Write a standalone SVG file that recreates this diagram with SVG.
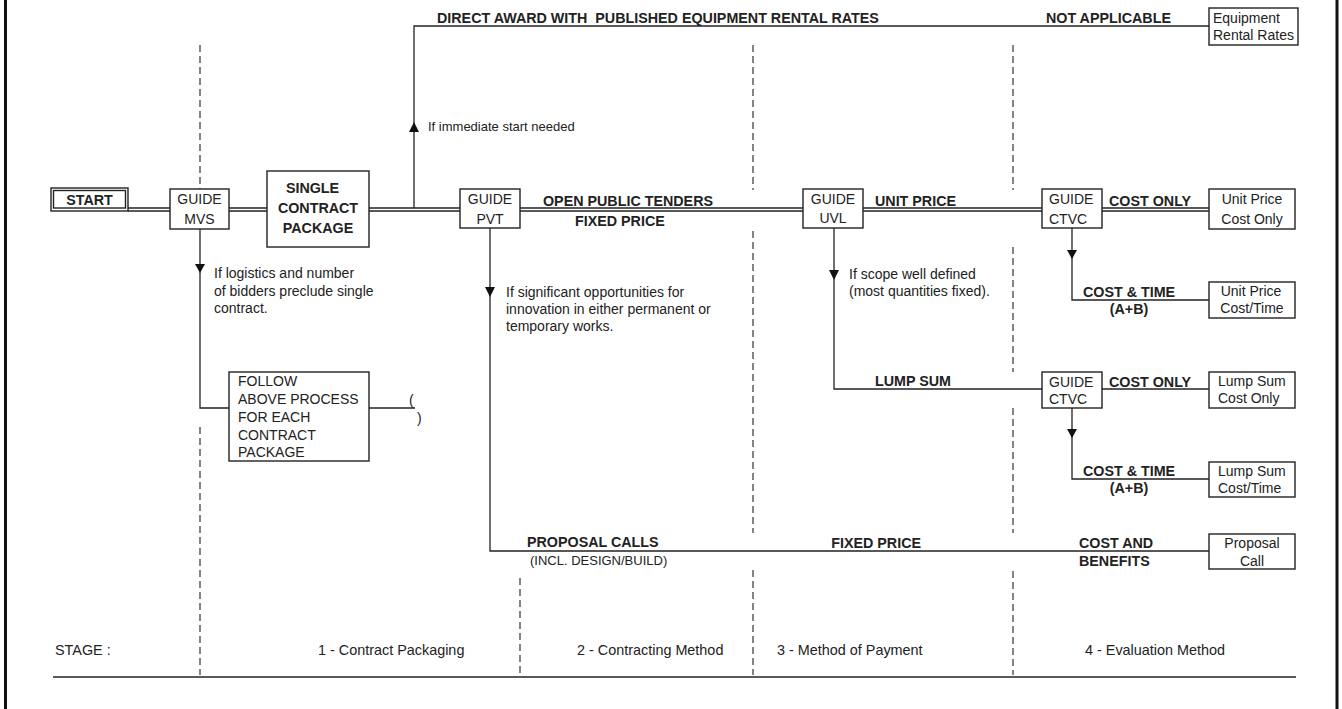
<svg xmlns="http://www.w3.org/2000/svg" width="1342" height="709" viewBox="0 0 1342 709">
<style>
text { font-family: "Liberation Sans", Arial, sans-serif; font-size: 14px; fill: #222; }
.b { font-weight: bold; font-size: 14.3px; }
.c { text-anchor: middle; }
.e { text-anchor: end; }
.sm { font-size: 13px; }
.st { font-size: 14.4px; }
.box { fill: #fff; stroke: #222; stroke-width: 1.4; }
.ln { fill: none; stroke: #222; stroke-width: 1.3; }
.dash { fill: none; stroke: #333; stroke-width: 1.2; stroke-dasharray: 7 4; }
.arr { fill: #111; stroke: none; }
.frame { stroke: #111; stroke-width: 3; }
</style>
<rect x="0" y="0" width="1342" height="709" fill="#fff"/>
<g id="frame">
<line class="frame" x1="5.5" y1="0" x2="5.5" y2="709"/>
<line class="frame" x1="1337" y1="0" x2="1337" y2="709"/>
</g>
<g id="stage-dividers">
<path class="dash" d="M200 45 V189 M200 427 V675"/>
<path class="dash" d="M520 578 V675"/>
<path class="dash" d="M753 45 V190 M753 231 V533 M753 570 V675"/>
<path class="dash" d="M1013 45 V190 M1013 247 V372 M1013 408 V533 M1013 571 V675"/>
<line class="ln" x1="53" y1="677" x2="1296" y2="677"/>
</g>
<g id="connectors">
<path class="ln" d="M128 208 H170 M128 211 H170 M229 208 H267 M229 211 H267 M369 208 H460 M369 211 H460 M520 208 H803 M520 211 H803 M863 208 H1042 M863 211 H1042 M1102 208 H1209 M1102 211 H1209"/>
<path class="ln" d="M414 208 V26 H1209"/>
<path class="ln" d="M200 229 V408 H229"/>
<path class="ln" d="M369 408 H415"/>
<path class="ln" d="M490 228 V551 H1209"/>
<path class="ln" d="M834 228 V389 H1042"/>
<path class="ln" d="M1072 228 V300 H1209"/>
<path class="ln" d="M1102 389 H1209"/>
<path class="ln" d="M1072 408 V479 H1209"/>
<polygon class="arr" points="414,122 409,132 419,132"/>
<polygon class="arr" points="195,264 205,264 200,273"/>
<polygon class="arr" points="485,287 495,287 490,297"/>
<polygon class="arr" points="829,270 839,270 834,280"/>
<polygon class="arr" points="1067,250 1077,250 1072,259"/>
<polygon class="arr" points="1067,429 1077,429 1072,438"/>
<text class="b" x="437" y="23" xml:space="preserve">DIRECT AWARD WITH  PUBLISHED EQUIPMENT RENTAL RATES</text>
<text class="b" x="1046" y="23">NOT APPLICABLE</text>
<text class="sm" x="428" y="131">If immediate start needed</text>
<text x="214" y="278">If logistics and number</text>
<text x="214" y="296">of bidders preclude single</text>
<text x="214" y="313">contract.</text>
<text x="409" y="405">(</text>
<text x="417" y="423">)</text>
<text class="b" x="543" y="205.5">OPEN PUBLIC TENDERS</text>
<text class="b" x="575" y="225.5">FIXED PRICE</text>
<text x="506" y="297">If significant opportunities for</text>
<text x="506" y="314">innovation in either permanent or</text>
<text x="506" y="331">temporary works.</text>
<text class="b" x="875" y="205.5">UNIT PRICE</text>
<text x="849" y="279">If scope well defined</text>
<text x="849" y="296">(most quantities fixed).</text>
<text class="b" x="875" y="386">LUMP SUM</text>
<text class="b" x="1109" y="205.5">COST ONLY</text>
<text class="b" x="1083" y="297">COST &amp; TIME</text>
<text class="b c" x="1129" y="314">(A+B)</text>
<text class="b" x="1109" y="387">COST ONLY</text>
<text class="b" x="1083" y="476">COST &amp; TIME</text>
<text class="b c" x="1129" y="493">(A+B)</text>
<text class="b" x="527" y="547">PROPOSAL CALLS</text>
<text class="sm" x="530" y="565">(INCL. DESIGN/BUILD)</text>
<text class="b e" x="921" y="548">FIXED PRICE</text>
<text class="b" x="1079" y="548">COST AND</text>
<text class="b" x="1079" y="566">BENEFITS</text>
</g>
<g id="start">
<rect class="box" x="51" y="188" width="77" height="23"/>
<rect class="box" x="53.5" y="190.5" width="72" height="17.5"/>
<text class="b c" x="89.5" y="204.5">START</text>
</g>
<g id="guide-mvs">
<rect class="box" x="170" y="189" width="59" height="40"/>
<text class="c" x="199.5" y="204">GUIDE</text>
<text class="c" x="199.5" y="224">MVS</text>
</g>
<g id="single-contract-package">
<rect class="box" x="267" y="171" width="102" height="76"/>
<text class="b c" x="312.5" y="193">SINGLE</text>
<text class="b c" x="318" y="213">CONTRACT</text>
<text class="b c" x="318" y="233">PACKAGE</text>
</g>
<g id="follow-process">
<rect class="box" x="229" y="372" width="140" height="89"/>
<text x="238" y="386">FOLLOW</text>
<text x="238" y="404">ABOVE PROCESS</text>
<text x="238" y="422">FOR EACH</text>
<text x="238" y="440">CONTRACT</text>
<text x="238" y="457">PACKAGE</text>
</g>
<g id="guide-pvt">
<rect class="box" x="460" y="189" width="60" height="39"/>
<text class="c" x="490" y="204">GUIDE</text>
<text class="c" x="490" y="224">PVT</text>
</g>
<g id="guide-uvl">
<rect class="box" x="803" y="189" width="60" height="39"/>
<text class="c" x="833" y="204">GUIDE</text>
<text class="c" x="833" y="223">UVL</text>
</g>
<g id="guide-ctvc-1">
<rect class="box" x="1042" y="189" width="60" height="39"/>
<text x="1049" y="204">GUIDE</text>
<text x="1049" y="224">CTVC</text>
</g>
<g id="guide-ctvc-2">
<rect class="box" x="1042" y="372" width="60" height="36"/>
<text x="1049" y="387">GUIDE</text>
<text x="1049" y="404">CTVC</text>
</g>
<g id="equipment-rental-rates">
<rect class="box" x="1209" y="8" width="89" height="37"/>
<text x="1213" y="23">Equipment</text>
<text x="1213" y="40">Rental Rates</text>
</g>
<g id="unit-price-cost-only">
<rect class="box" x="1209" y="189" width="86" height="40"/>
<text class="c" x="1252" y="204">Unit Price</text>
<text class="c" x="1252" y="224">Cost Only</text>
</g>
<g id="unit-price-cost-time">
<rect class="box" x="1209" y="282" width="86" height="36"/>
<text class="c" x="1251" y="296">Unit Price</text>
<text class="c" x="1252" y="313">Cost/Time</text>
</g>
<g id="lump-sum-cost-only">
<rect class="box" x="1209" y="372" width="86" height="36"/>
<text x="1218" y="386">Lump Sum</text>
<text x="1218" y="403">Cost Only</text>
</g>
<g id="lump-sum-cost-time">
<rect class="box" x="1209" y="462" width="86" height="35"/>
<text x="1218" y="476">Lump Sum</text>
<text x="1218" y="493">Cost/Time</text>
</g>
<g id="proposal-call">
<rect class="box" x="1209" y="534" width="86" height="35"/>
<text class="c" x="1252" y="548">Proposal</text>
<text class="c" x="1252" y="566">Call</text>
</g>
<g id="stage-labels">
<text class="st" x="55" y="655">STAGE :</text>
<text class="st" x="318" y="655">1 - Contract Packaging</text>
<text class="st" x="577" y="655">2 - Contracting Method</text>
<text class="st" x="777" y="655">3 - Method of Payment</text>
<text class="st" x="1085" y="655">4 - Evaluation Method</text>
</g>
</svg>
